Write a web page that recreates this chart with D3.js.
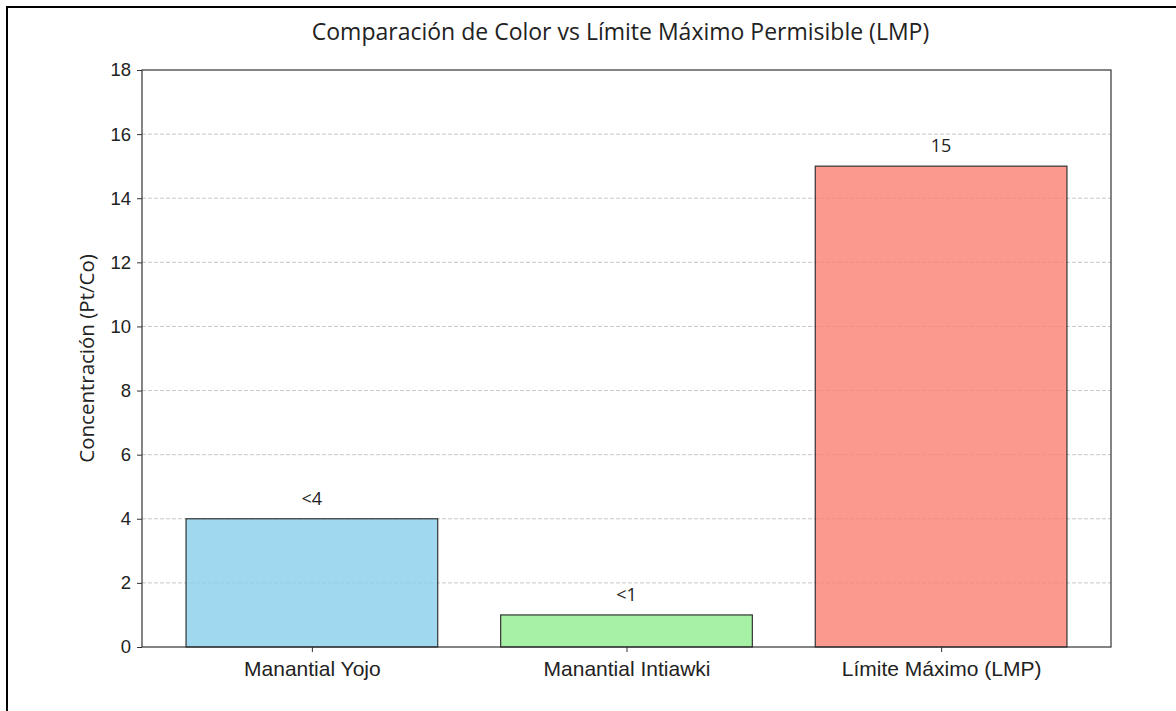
<!DOCTYPE html>
<html>
<head>
<meta charset="utf-8">
<script src="https://cdn.jsdelivr.net/npm/d3@7"></script>
<style>
  body { margin: 0; background: #fff; }
  svg { display: block; font-family: "Open Sans", "Noto Sans", sans-serif; }
</style>
</head>
<body>
<div id="chart"></div>
<script>
const categories = ["Manantial Yojo", "Manantial Intiawki", "Límite Máximo (LMP)"];
const values = [4, 1, 15];
const valueLabels = ["<4", "<1", "15"];
const barColors = ["skyblue", "lightgreen", "salmon"];
const yTicks = [0, 2, 4, 6, 8, 10, 12, 14, 16, 18];

const width = 1176, height = 711;
const margin = {top: 70, right: 65, bottom: 64, left: 142};
const innerWidth = width - margin.left - margin.right,
    innerHeight = height - margin.top - margin.bottom;

const svg = d3.select("#chart")
    .append("svg")
    .attr("width", width)
    .attr("height", height);

// outer frame, only left and top edges are inside the picture
svg.append("path")
    .attr("d", "M7," + height + "V7H" + width)
    .attr("fill", "none")
    .attr("stroke", "#000")
    .attr("stroke-width", 2);

const g = svg.append("g")
    .attr("transform", "translate(" + margin.left + "," + margin.top + ")");

// index scale like matplotlib: bars of width 0.8, 5% margins
const x = d3.scaleLinear()
    .domain([-0.54, categories.length - 1 + 0.54])
    .range([0, innerWidth]);
const barW = x(0.8) - x(0);

const y = d3.scaleLinear()
    .domain([0, 18])
    .range([innerHeight, 0]);

// grid
g.append("g")
    .selectAll("line")
    .data(yTicks.filter(d => d > 0 && d < 18))
    .enter()
    .append("line")
    .attr("x1", 0).attr("x2", innerWidth)
    .attr("y1", d => y(d)).attr("y2", d => y(d))
    .attr("stroke", "#c8c8c8")
    .attr("stroke-width", 1)
    .attr("stroke-dasharray", "4,2");

// bars
g.selectAll("rect.bar")
    .data(values)
    .enter()
    .append("rect")
    .attr("class", "bar")
    .attr("x", (d, i) => x(i) - barW / 2)
    .attr("y", d => y(d))
    .attr("width", barW)
    .attr("height", d => innerHeight - y(d))
    .attr("fill", (d, i) => barColors[i])
    .attr("fill-opacity", 0.8)
    .attr("stroke", "#333")
    .attr("stroke-width", 1.2);

// value labels
g.selectAll("text.val")
    .data(values)
    .enter()
    .append("text")
    .attr("class", "val")
    .attr("x", (d, i) => x(i))
    .attr("y", d => y(d) - 14)
    .attr("text-anchor", "middle")
    .style("font-size", "18px")
    .attr("fill", "#222")
    .text((d, i) => valueLabels[i]);

// axes
const yAxis = g.append("g")
    .call(d3.axisLeft(y).tickValues(yTicks).tickSize(5).tickPadding(6));
yAxis.select(".domain").remove();
yAxis.selectAll("text").style("font-size", "18.5px").attr("fill", "#222");
yAxis.selectAll("line").attr("stroke", "#333");

const xAxis = g.append("g")
    .attr("transform", "translate(0," + innerHeight + ")")
    .call(d3.axisBottom(x).tickValues(d3.range(categories.length))
        .tickFormat(i => categories[i]).tickSize(5).tickPadding(9));
xAxis.select(".domain").remove();
xAxis.selectAll("text").style("font-size", "21px").attr("fill", "#222");
xAxis.selectAll("line").attr("stroke", "#333");

// frame of the plot area
g.append("rect")
    .attr("width", innerWidth)
    .attr("height", innerHeight)
    .attr("fill", "none")
    .attr("stroke", "#333")
    .attr("stroke-width", 1.2);

// titles
svg.append("text")
    .attr("x", margin.left + innerWidth / 2 - 6)
    .attr("y", 40)
    .attr("text-anchor", "middle")
    .style("font-size", "23px")
    .attr("fill", "#222")
    .text("Comparación de Color vs Límite Máximo Permisible (LMP)");

svg.append("text")
    .attr("transform", "translate(94," + (margin.top + innerHeight / 2) + ")rotate(-90)")
    .attr("text-anchor", "middle")
    .style("font-size", "20.5px")
    .attr("fill", "#222")
    .text("Concentración (Pt/Co)");
</script>
</body>
</html>
